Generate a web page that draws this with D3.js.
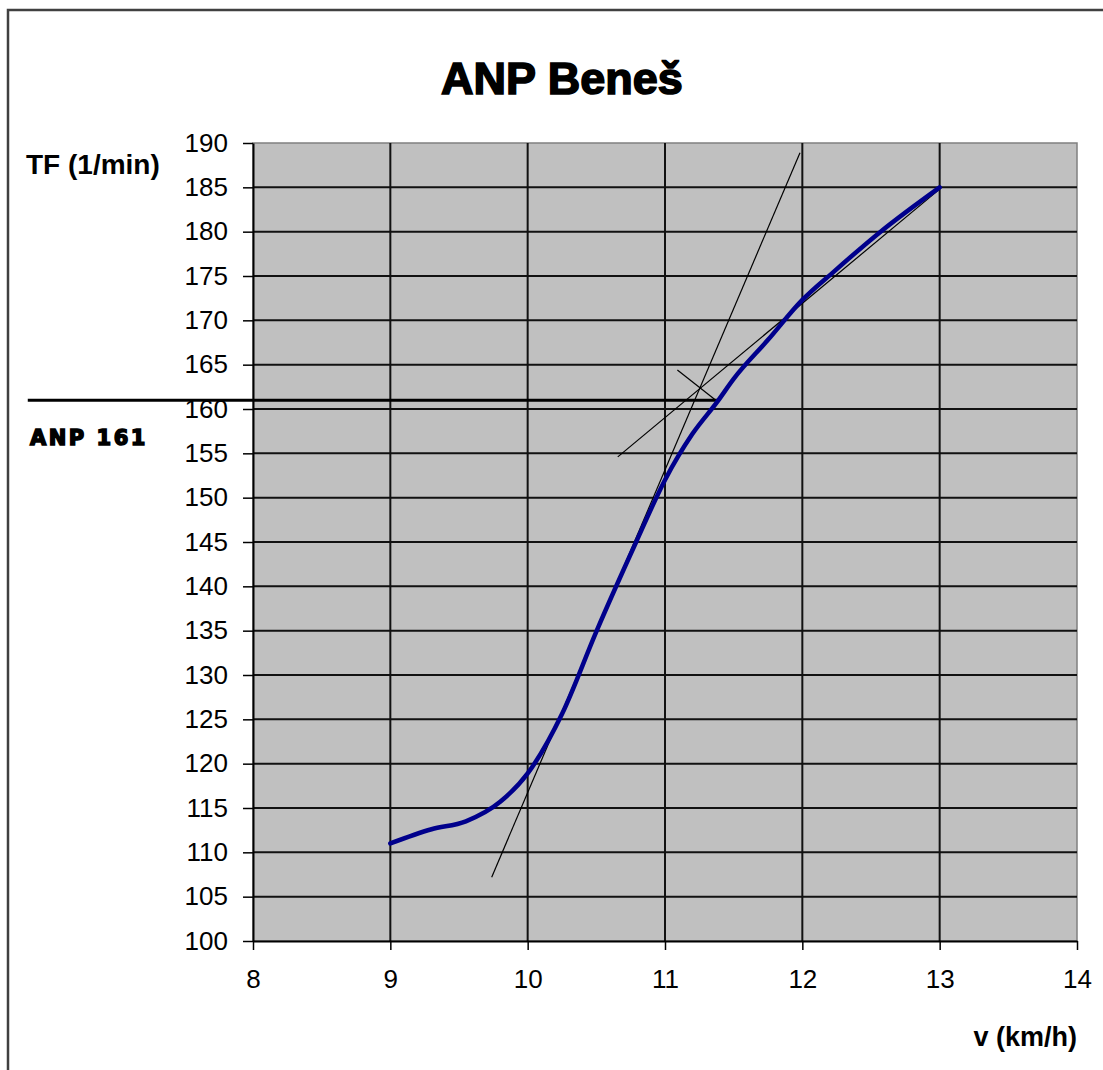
<!DOCTYPE html>
<html>
<head>
<meta charset="utf-8">
<script src="https://cdn.jsdelivr.net/npm/d3@7"></script>
<style>
  html, body { margin: 0; padding: 0; background: #fff; }
  svg { display: block; }
</style>
</head>
<body>
<svg id="chart" width="1103" height="1070"></svg>
<script>
// Heart rate (TF) against running speed v, Conconi test
const speedKmh = [9.0, 9.3, 9.55, 9.8, 10.0, 10.25, 10.5, 10.79, 11.0, 11.2, 11.38, 11.5, 11.75, 12.0, 12.23, 12.57, 13.0];
const heartRate = [111.0, 112.6, 113.5, 115.7, 118.9, 125.6, 134.9, 145.0, 152.0, 157.2, 160.8, 163.4, 167.8, 172.3, 175.5, 180.0, 185.0];

// Tangent construction lines: [v, TF] end points
const steepTangent = [[9.738, 107.2], [11.983, 188.9]];
const flatTangent  = [[10.656, 154.6], [13.0, 184.8]];
const bisector     = [[11.09, 164.4], [11.377, 160.9]];

// Anaerobic threshold
const anpValue = 161;
const anpLine = [[6.36, anpValue], [11.386, anpValue]];

// Axis ticks
const xTicks = [8, 9, 10, 11, 12, 13, 14];
const yTicks = [100, 105, 110, 115, 120, 125, 130, 135, 140, 145, 150, 155, 160, 165, 170, 175, 180, 185, 190];

const title = "ANP Beneš";
const yTitle = "TF (1/min)";
const xTitle = "v (km/h)";
const anpLabel = "ANP " + anpValue;

const svg = d3.select("#chart");
const plot = { left: 253, right: 1077, top: 143, bottom: 941 };

const x = d3.scaleLinear().domain([8, 14]).range([plot.left, plot.right]);
const y = d3.scaleLinear().domain([100, 190]).range([plot.bottom, plot.top]);

// outer chart frame
svg.append("rect")
  .attr("x", 8).attr("y", 10).attr("width", 1300).attr("height", 1300)
  .attr("fill", "#fff").attr("stroke", "#404040").attr("stroke-width", 2.5);

// plot area
svg.append("rect")
  .attr("x", plot.left).attr("y", plot.top)
  .attr("width", plot.right - plot.left).attr("height", plot.bottom - plot.top)
  .attr("fill", "#c0c0c0").attr("stroke", "#808080").attr("stroke-width", 1.5);

// gridlines
const grid = svg.append("g").attr("stroke", "#111").attr("stroke-width", 2);
grid.selectAll("line.h").data(yTicks.filter(t => t > 100 && t < 190)).join("line")
  .attr("x1", plot.left).attr("x2", plot.right)
  .attr("y1", d => y(d)).attr("y2", d => y(d));
grid.selectAll("line.v").data(xTicks.filter(t => t > 8 && t < 14)).join("line")
  .attr("y1", plot.top).attr("y2", plot.bottom)
  .attr("x1", d => x(d)).attr("x2", d => x(d));

// axes
const fontFam = "'Liberation Sans', Arial, sans-serif";
const yAxis = svg.append("g")
  .attr("transform", `translate(${plot.left},0)`)
  .call(d3.axisLeft(y).tickValues(yTicks).tickFormat(d3.format("d"))
    .tickSize(10).tickPadding(15).tickSizeOuter(0));
const xAxis = svg.append("g")
  .attr("transform", `translate(0,${plot.bottom})`)
  .call(d3.axisBottom(x).tickValues(xTicks).tickFormat(d3.format("d"))
    .tickSize(9).tickPadding(20).tickSizeOuter(0));
[yAxis, xAxis].forEach(g => {
  g.select(".domain").attr("stroke", "#000").attr("stroke-width", 2);
  g.selectAll(".tick line").attr("stroke", "#000").attr("stroke-width", 1.5);
  g.selectAll(".tick text").attr("fill", "#000")
    .style("font-family", fontFam).style("font-size", "26px");
});

// construction lines
const lineGen = d3.line().x(d => x(d[0])).y(d => y(d[1]));
[steepTangent, flatTangent, bisector].forEach(seg => {
  svg.append("path").attr("d", lineGen(seg))
    .attr("fill", "none").attr("stroke", "#000").attr("stroke-width", 1.2);
});

// ANP threshold line
svg.append("path").attr("d", lineGen(anpLine))
  .attr("fill", "none").attr("stroke", "#000").attr("stroke-width", 3);

// heart-rate curve
const pts = speedKmh.map((v, i) => [v, heartRate[i]]);
svg.append("path")
  .attr("d", d3.line().x(d => x(d[0])).y(d => y(d[1])).curve(d3.curveMonotoneX)(pts))
  .attr("fill", "none").attr("stroke", "#00008c").attr("stroke-width", 4.5)
  .attr("stroke-linejoin", "round").attr("stroke-linecap", "round");

// texts
svg.append("text")
  .attr("x", 562).attr("y", 94).attr("text-anchor", "middle")
  .style("font-family", fontFam).style("font-weight", "bold").style("font-size", "45px")
  .attr("stroke", "#000").attr("stroke-width", 1.6)
  .text(title);

svg.append("text")
  .attr("x", 26).attr("y", 174)
  .style("font-family", fontFam).style("font-weight", "bold").style("font-size", "28px")
  .text(yTitle);

svg.append("text")
  .attr("x", 1077).attr("y", 1046).attr("text-anchor", "end")
  .style("font-family", fontFam).style("font-weight", "bold").style("font-size", "27px")
  .text(xTitle);

svg.append("text")
  .attr("x", 30).attr("y", 445)
  .style("font-family", "'DejaVu Sans', sans-serif").style("font-weight", "bold").style("font-size", "21px")
  .style("letter-spacing", "2.5px")
  .attr("stroke", "#000").attr("stroke-width", 1.5)
  .text(anpLabel);
</script>
</body>
</html>
